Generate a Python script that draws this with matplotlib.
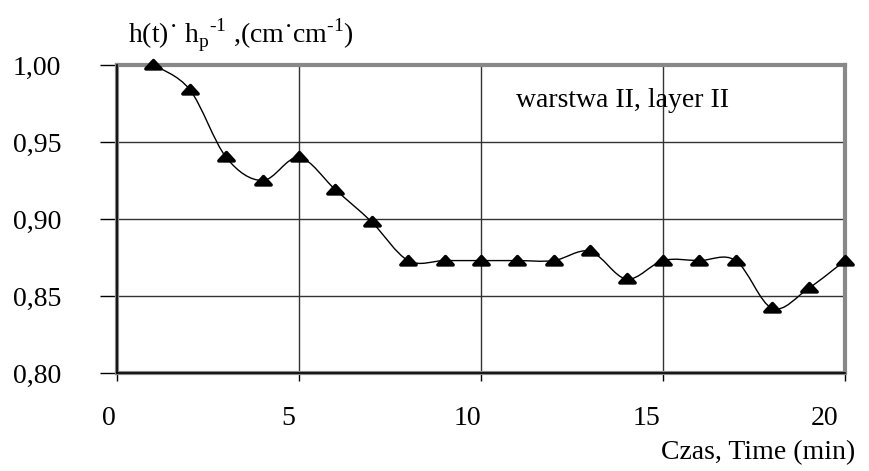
import matplotlib
matplotlib.use("Agg")
import matplotlib.pyplot as plt
import numpy as np
from matplotlib.path import Path
from matplotlib.patches import PathPatch
from matplotlib.markers import MarkerStyle
from matplotlib.transforms import ScaledTranslation

time_min = [1, 2, 3, 4, 5, 6, 7, 8, 9, 10, 11, 12, 13, 14, 15, 16, 17, 18, 19, 20]
h_ratio = [1.000, 0.984, 0.940, 0.925, 0.940, 0.919, 0.898, 0.873, 0.873, 0.873,
           0.873, 0.873, 0.879, 0.861, 0.873, 0.873, 0.873, 0.842, 0.855, 0.873]
x_ticks = [0, 5, 10, 15, 20]
y_ticks = [0.80, 0.85, 0.90, 0.95, 1.00]
y_tick_labels = ["0,80", "0,85", "0,90", "0,95", "1,00"]

plt.rcParams['font.family'] = ['Liberation Serif', 'DejaVu Serif']
plt.rcParams['mathtext.fontset'] = 'custom'
plt.rcParams['mathtext.rm'] = 'Liberation Serif'

FS = 20

fig = plt.figure(figsize=(8.69, 4.71), dpi=100)
ax = fig.add_axes([117/869, 1-373/471, (845-117)/869, (373-65)/471])
ax.set_xlim(0, 20)
ax.set_ylim(0.80, 1.00)

# grid
for gx in [5, 10, 15]:
    ax.axvline(gx, color='#333333', lw=1.0, zorder=1)
for gy in [0.85, 0.90, 0.95]:
    ax.axhline(gy, color='#333333', lw=1.0, zorder=1)

# smooth curve (Catmull-Rom -> cubic Bezier) through data points
xs = np.array(time_min, float)
ys = np.array(h_ratio, float)
verts = [(xs[0], ys[0])]
codes = [Path.MOVETO]
n = len(xs)
for i in range(n - 1):
    p0 = np.array([xs[max(i-1, 0)], ys[max(i-1, 0)]])
    p1 = np.array([xs[i], ys[i]])
    p2 = np.array([xs[i+1], ys[i+1]])
    p3 = np.array([xs[min(i+2, n-1)], ys[min(i+2, n-1)]])
    c1 = p1 + (p2 - p0) / 6.0
    c2 = p2 - (p3 - p1) / 6.0
    verts += [tuple(c1), tuple(c2), tuple(p2)]
    codes += [Path.CURVE4, Path.CURVE4, Path.CURVE4]
ax.add_patch(PathPatch(Path(verts, codes), facecolor='none', edgecolor='black',
                       lw=1.0, zorder=3, clip_on=False))
tri = Path([(-1.0, -0.45), (1.0, -0.45), (0.0, 0.65), (-1.0, -0.45)],
           [Path.MOVETO, Path.LINETO, Path.LINETO, Path.CLOSEPOLY])
ax.plot(time_min, h_ratio, linestyle='none', marker=MarkerStyle(tri, joinstyle='round'),
        markersize=11, markeredgewidth=2.5, color='black', zorder=4, clip_on=False)

# frame
for s in ax.spines.values():
    s.set_color('#888888')
    s.set_linewidth(3)
ax.axvline(0, color='black', lw=1.2, zorder=5, clip_on=False)
ax.axhline(0.80, color='black', lw=1.2, zorder=5, clip_on=False)

ax.set_xticks(x_ticks)
ax.set_xticklabels([str(t) for t in x_ticks])
ax.set_yticks(y_ticks)
ax.set_yticklabels(y_tick_labels)
ax.tick_params(axis='y', length=12, width=1, color='black', pad=28, labelsize=FS)
ax.tick_params(axis='x', length=6, width=1, color='black', pad=18, labelsize=FS)
for t, lab in zip(x_ticks, ax.get_xticklabels()):
    dx = -(8 + 0.6 * t) / 100.0
    lab.set_transform(lab.get_transform() + ScaledTranslation(dx, 0, fig.dpi_scale_trans))

ax.text(10.96, 0.977, "warstwa II, layer II", fontsize=FS, ha='left', va='center')
fig.text(128/869, 1-35/471,
         "h(t)\u02d9 h$_\\mathregular{p}$$^{\\mathregular{\u2010}\\mathregular{1}}$ ,(cm\u02d9cm$^{\\mathregular{\u2010}\\mathregular{1}}$)",
         fontsize=FS, ha='left', va='center')
fig.text(855/869, 1-453/471, "Czas, Time (min)", fontsize=FS, ha='right', va='center')

fig.savefig("out.png", dpi=100)
